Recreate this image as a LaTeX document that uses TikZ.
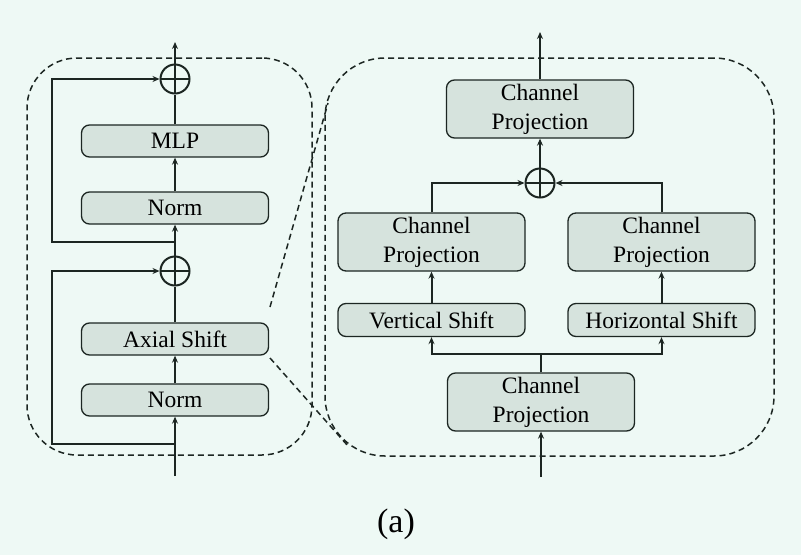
\documentclass[tikz,border=0pt]{standalone}
\usepackage{fontspec}
\setmainfont{Liberation Serif}
\usetikzlibrary{arrows.meta}

\definecolor{bgmint}{HTML}{EEF9F5}
\definecolor{boxfill}{HTML}{D6E3DD}
\definecolor{ink}{HTML}{1C2622}

\tikzset{
  block/.style={draw=ink,fill=boxfill,rounded corners=8pt,line width=1.3pt,
    minimum width=187pt,inner sep=0pt,align=center,
    font=\fontsize{23.5}{29}\selectfont},
  addop/.style={draw=ink,circle,line width=2pt,minimum size=29pt,inner sep=0pt,
    path picture={\draw[ink,line width=2pt]
      (path picture bounding box.north)--(path picture bounding box.south)
      (path picture bounding box.west)--(path picture bounding box.east);}},
  flow/.style={draw=ink,line width=2pt},
  arr/.style={flow,-{Stealth[length=7pt,width=6pt]}},
  frame/.style={draw=ink,line width=1.5pt,dash pattern=on 6pt off 4pt,inner sep=0pt},
  zoomline/.style={draw=ink,line width=1.5pt,dash pattern=on 6pt off 4pt}
}

\begin{document}
\begin{tikzpicture}[x=1pt,y=-1pt]
\fill[bgmint] (0,0) rectangle (801,555);
\useasboundingbox (0,0) rectangle (801,555);

% left block
\node[frame,rounded corners=50pt,minimum width=285pt,minimum height=397pt] (leftFrame) at (169.5,256.5) {};
\node[block,minimum height=32pt] (mlp) at (175,141) {MLP};
\node[block,minimum height=32pt] (norm2) at (175,208) {Norm};
\node[block,minimum height=32pt] (axial) at (175,339) {Axial Shift};
\node[block,minimum height=32pt] (norm1) at (175,400) {Norm};
\node[addop] (add2) at (175,79) {};
\node[addop] (add1) at (175,271) {};
\coordinate (inL) at (175,476);
\coordinate (outL) at (175,42);
\coordinate (splitA) at (175,444);
\coordinate (splitB) at (175,242);

\draw[arr] (inL) -- (norm1);
\draw[arr] (norm1) -- (axial);
\draw[flow] (axial) -- (add1.south);
\draw[arr] (add1) -- (norm2);
\draw[arr] (norm2) -- (mlp);
\draw[flow] (mlp) -- (add2.south);
\draw[arr] (add2.north) -- (outL);
\draw[arr] (splitA) -- ++(-123,0) |- (add1);
\draw[arr] (splitB) -- ++(-123,0) |- (add2);

% right block
\node[frame,rounded corners=60pt,minimum width=449pt,minimum height=398pt] (rightFrame) at (549.5,257) {};
\node[block,minimum height=58pt] (cpTop) at (540,109) {Channel\\Projection};
\node[addop] (add3) at (540,183) {};
\node[block,minimum height=58pt] (cpLeft) at (431.5,242) {Channel\\Projection};
\node[block,minimum height=58pt] (cpRight) at (661.5,242) {Channel\\Projection};
\node[block,minimum height=33pt] (vshift) at (431.5,320) {Vertical Shift};
\node[block,minimum height=33pt] (hshift) at (661.5,320) {Horizontal Shift};
\node[block,minimum height=58pt] (cpBot) at (541,402) {Channel\\Projection};
\coordinate (inR) at (541,477);
\coordinate (outR) at (540,32);
\coordinate (fork) at (541,354);

\draw[arr] (inR) -- (cpBot);
\draw[flow] (cpBot) -- (fork);
\draw[arr] (fork) -| (vshift);
\draw[arr] (fork) -| (hshift);
\draw[arr] (vshift) -- (cpLeft);
\draw[arr] (hshift) -- (cpRight);
\draw[arr] (cpLeft) |- (add3);
\draw[arr] (cpRight) |- (add3);
\draw[arr] (add3) -- (cpTop);
\draw[arr] (cpTop) -- (outR);

% zoom lines
\coordinate (zoomA) at (270,307);
\coordinate (zoomB) at (328,103);
\coordinate (zoomC) at (270,358);
\coordinate (zoomD) at (348,446);
\draw[zoomline] (zoomA) -- (zoomB);
\draw[zoomline] (zoomC) -- (zoomD);

\node[font=\fontsize{34}{40}\selectfont] (caption) at (396,524) {(a)};
\end{tikzpicture}
\end{document}
